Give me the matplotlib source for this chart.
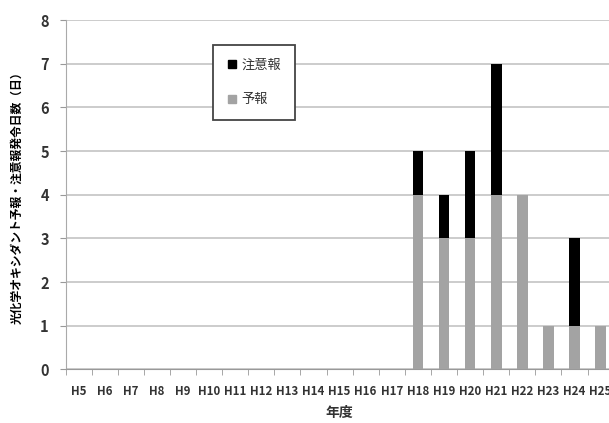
import numpy as np
import matplotlib
matplotlib.use("Agg")
import matplotlib.pyplot as plt
from matplotlib.lines import Line2D

plt.rcParams['font.family'] = ['Noto Sans CJK JP', 'DejaVu Sans']

years = ["H5", "H6", "H7", "H8", "H9", "H10", "H11", "H12", "H13", "H14", "H15",
         "H16", "H17", "H18", "H19", "H20", "H21", "H22", "H23", "H24", "H25"]
yoho = [0, 0, 0, 0, 0, 0, 0, 0, 0, 0, 0, 0, 0, 4, 3, 3, 4, 4, 1, 1, 1]
chuiho = [0, 0, 0, 0, 0, 0, 0, 0, 0, 0, 0, 0, 0, 1, 1, 2, 3, 0, 0, 2, 0]

grey = "#a3a3a3"
txt = "#333333"

fig = plt.figure(figsize=(6.09, 4.23), dpi=100)
ax = fig.add_axes([0.1076, 0.1265, 0.90, 0.8262])

x = np.arange(len(years))
ax.bar(x, yoho, width=0.41, color=grey, zorder=3)
ax.bar(x, chuiho, width=0.41, bottom=yoho, color="black", zorder=3)

ax.set_xlim(-0.5, len(years) - 0.5)
ax.set_ylim(0, 8)
ax.set_yticks(range(9))
ax.yaxis.grid(True, color="#c4c4c4", linewidth=1.2, zorder=0)

ax.set_xticks(x)
ax.set_xticklabels(years, fontsize=8.3, fontweight="bold", color=txt)
ax.set_xticks(np.arange(len(years) + 1) - 0.5, minor=True)
ax.tick_params(axis="x", which="major", length=0, pad=11)
ax.tick_params(axis="x", which="minor", length=4, color="#999999", direction="out")
ax.tick_params(axis="y", length=4, color="#999999", labelsize=10.5, labelcolor=txt, pad=8)
for lab in ax.get_yticklabels():
    lab.set_fontweight("bold")

for side in ["top", "right"]:
    ax.spines[side].set_visible(False)
ax.spines["left"].set_color("#aaaaaa")
ax.spines["bottom"].set_color("#999999")

ax.set_ylabel("光化学オキシダント予報・注意報発令日数（日）", fontsize=8.5,
              fontweight="bold", color="black", labelpad=12)
ax.set_xlabel("年度", fontsize=10, fontweight="bold", color=txt, labelpad=6)

handles = [Line2D([], [], marker="s", linestyle="none", color="black", markersize=5.5),
           Line2D([], [], marker="s", linestyle="none", color=grey, markersize=5.5)]
leg = ax.legend(handles, ["注意報", "予報"], loc="upper left",
                bbox_to_anchor=(0.269, 0.928), frameon=True, fancybox=False,
                edgecolor="#444444", framealpha=1, fontsize=9.5,
                handlelength=0.8, handletextpad=0.3, labelspacing=1.6,
                borderpad=1.05, borderaxespad=0)
leg.get_frame().set_linewidth(1.3)
for t in leg.get_texts():
    t.set_color(txt)

fig.savefig("out.png", dpi=100)
